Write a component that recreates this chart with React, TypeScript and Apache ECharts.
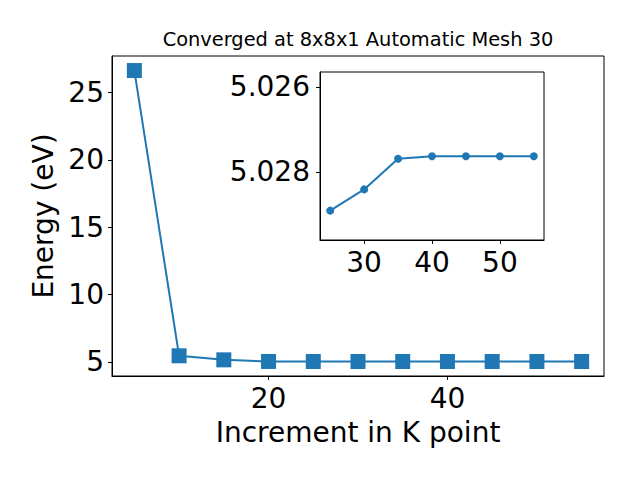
import React, { useEffect, useRef } from "react";
import * as echarts from "echarts";

const kPoints = [5, 10, 15, 20, 25, 30, 35, 40, 45, 50, 55];
const energies = [26.64, 5.45, 5.15, 5.03, 5.029, 5.028, 5.028, 5.028, 5.028, 5.028, 5.028];
const insetK = [25, 30, 35, 40, 45, 50, 55];
const insetEnergies = [5.02891, 5.02841, 5.02769, 5.02763, 5.02763, 5.02763, 5.02763];
const mainYTicks = [5, 10, 15, 20, 25];
const mainXTicks = [20, 40];
const insetXTicks = [30, 40, 50];
const insetYTicks = [5.026, 5.028];

const BLUE = "#1f77b4";
const FONT = "DejaVu Sans";
const FS = 28;

export default function App() {
  const ref = useRef<HTMLDivElement>(null);
  useEffect(() => {
    if (!ref.current) return;
    const chart = echarts.init(ref.current, null, { renderer: "svg" });
    const axisCommon = {
      axisLine: { show: true, onZero: false, lineStyle: { color: "#000", width: 1 } },
      splitLine: { show: false },
    };
    chart.setOption({
      animation: false,
      backgroundColor: "#fff",
      title: {
        text: "Converged at 8x8x1 Automatic Mesh 30",
        left: 358,
        top: 30,
        padding: 0,
        textAlign: "center",
        textStyle: { fontFamily: FONT, fontSize: 19.4, fontWeight: "normal", color: "#000" },
      },
      grid: [
        { left: 112, top: 56, right: 36, bottom: 104, show: true, borderColor: "#000", borderWidth: 1, backgroundColor: "transparent" },
        { left: 320, top: 72, right: 96, bottom: 240, show: true, borderColor: "#000", borderWidth: 1, backgroundColor: "#fff" },
      ],
      xAxis: [
        {
          ...axisCommon,
          type: "value",
          gridIndex: 0,
          min: 2.5,
          max: 57.5,
          name: "Increment in K point",
          nameLocation: "middle",
          nameGap: 42,
          nameTextStyle: { fontFamily: FONT, fontSize: FS, color: "#000" },
          axisTick: { show: true, length: 4, lineStyle: { color: "#000" }, customValues: mainXTicks },
          axisLabel: { fontFamily: FONT, fontSize: FS, color: "#000", margin: 8, customValues: mainXTicks },
        },
        {
          ...axisCommon,
          type: "value",
          gridIndex: 1,
          min: 23.5,
          max: 56.5,
          axisTick: { show: true, length: 4, lineStyle: { color: "#000" }, customValues: insetXTicks },
          axisLabel: { fontFamily: FONT, fontSize: FS, color: "#000", margin: 8, customValues: insetXTicks },
        },
      ],
      yAxis: [
        {
          ...axisCommon,
          type: "value",
          gridIndex: 0,
          min: 3.95,
          max: 27.72,
          name: "Energy (eV)",
          nameLocation: "middle",
          nameGap: 52,
          nameTextStyle: { fontFamily: FONT, fontSize: FS, color: "#000" },
          axisTick: { show: true, length: 4, lineStyle: { color: "#000" }, customValues: mainYTicks },
          axisLabel: { fontFamily: FONT, fontSize: FS, color: "#000", margin: 8, customValues: mainYTicks },
        },
        {
          ...axisCommon,
          type: "value",
          gridIndex: 1,
          inverse: true,
          min: 5.02565,
          max: 5.0296,
          axisTick: { show: true, length: 4, lineStyle: { color: "#000" }, customValues: insetYTicks },
          axisLabel: {
            fontFamily: FONT,
            fontSize: FS,
            color: "#000",
            margin: 10,
            customValues: insetYTicks,
            formatter: (v: number) => v.toFixed(3),
          },
        },
      ],
      series: [
        {
          type: "line",
          xAxisIndex: 0,
          yAxisIndex: 0,
          data: kPoints.map((k, i) => [k, energies[i]]),
          symbol: "rect",
          symbolSize: 15,
          lineStyle: { color: BLUE, width: 2 },
          itemStyle: { color: BLUE },
          z: 2,
        },
        {
          type: "line",
          xAxisIndex: 1,
          yAxisIndex: 1,
          data: insetK.map((k, i) => [k, insetEnergies[i]]),
          symbol: "circle",
          symbolSize: 8,
          showSymbol: true,
          lineStyle: { color: BLUE, width: 2 },
          itemStyle: { color: BLUE },
          z: 5,
        },
      ],
    });
    return () => chart.dispose();
  }, []);
  return <div ref={ref} style={{ width: 640, height: 480, margin: -8 }} />;
}
